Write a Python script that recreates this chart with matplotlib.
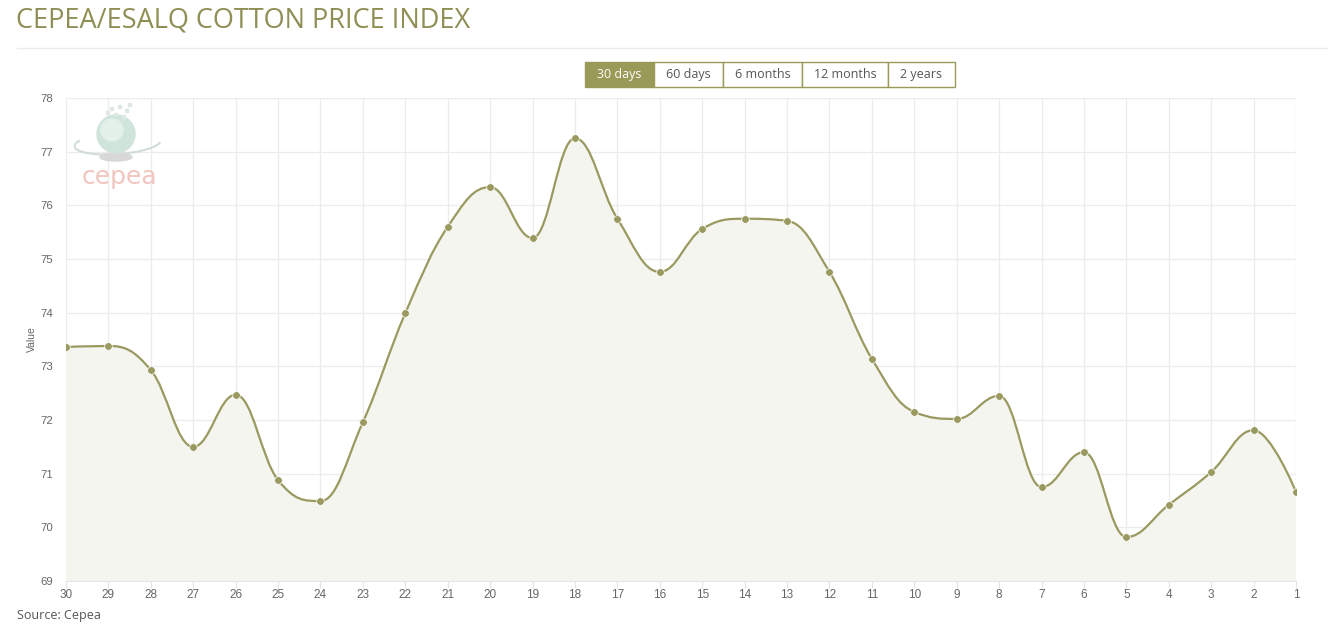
import matplotlib
matplotlib.use("Agg")
import matplotlib.pyplot as plt
import numpy as np
from matplotlib.path import Path
from matplotlib.patches import PathPatch, Rectangle, Ellipse, Arc
from matplotlib.lines import Line2D

# data
day_labels = ['30', '29', '28', '27', '26', '25', '24', '23', '22', '21', '20', '19', '18', '17', '16',
              '15', '14', '13', '12', '11', '10', '9', '8', '7', '6', '5', '4', '3', '2', '1']
values = [73.36, 73.38, 72.93, 71.50, 72.47, 70.88, 70.49, 71.96, 73.99, 75.60,
          76.34, 75.39, 77.25, 75.75, 74.76, 75.56, 75.75, 75.71, 74.76, 73.14,
          72.15, 72.02, 72.45, 70.75, 71.40, 69.82, 70.42, 71.03, 71.81, 70.66]
y_ticks = [69, 70, 71, 72, 73, 74, 75, 76, 77, 78]
buttons = ['30 days', '60 days', '6 months', '12 months', '2 years']

W, H = 1328, 629
OLIVE = '#999960'
BTN = '#9a9a58'


def spline_path(xs, ys, smoothing=1.5):
    # highcharts-like spline control points
    n = len(xs)
    left = [(xs[i], ys[i]) for i in range(n)]
    right = [(xs[i], ys[i]) for i in range(n)]
    denom = smoothing + 1
    for i in range(1, n - 1):
        px, py = xs[i], ys[i]
        lx = (smoothing * px + xs[i - 1]) / denom
        ly = (smoothing * py + ys[i - 1]) / denom
        rx = (smoothing * px + xs[i + 1]) / denom
        ry = (smoothing * py + ys[i + 1]) / denom
        corr = ((ry - ly) * (rx - px)) / (rx - lx) + py - ry
        ly += corr
        ry += corr
        if ly > ys[i - 1] and ly > py:
            ly = max(ys[i - 1], py)
            ry = 2 * py - ly
        elif ly < ys[i - 1] and ly < py:
            ly = min(ys[i - 1], py)
            ry = 2 * py - ly
        if ry > ys[i + 1] and ry > py:
            ry = max(ys[i + 1], py)
            ly = 2 * py - ry
        elif ry < ys[i + 1] and ry < py:
            ry = min(ys[i + 1], py)
            ly = 2 * py - ry
        left[i] = (lx, ly)
        right[i] = (rx, ry)
    verts = [(xs[0], ys[0])]
    codes = [Path.MOVETO]
    for i in range(1, n):
        verts += [right[i - 1], left[i], (xs[i], ys[i])]
        codes += [Path.CURVE4] * 3
    return verts, codes


fig = plt.figure(figsize=(W / 100, H / 100), dpi=100)
fig.patch.set_facecolor('white')


def fx(x):
    return x / W


def fy(y):
    return 1 - y / H


ax = fig.add_axes([fx(66), fy(581), (1296 - 66) / W, (581 - 98) / H])
ax.set_facecolor('white')

xs = np.arange(len(values), dtype=float)
verts, codes = spline_path(list(xs), list(values))

# area fill
fverts = verts + [(xs[-1], y_ticks[0]), (xs[0], y_ticks[0]), (xs[0], values[0])]
fcodes = codes + [Path.LINETO, Path.LINETO, Path.CLOSEPOLY]
ax.add_patch(PathPatch(Path(fverts, fcodes), facecolor='#f5f5f0', edgecolor='none', zorder=1))
ax.add_patch(PathPatch(Path(verts, codes), facecolor='none', edgecolor=OLIVE, lw=1.6, zorder=3))
ax.plot(xs, values, 'o', color=OLIVE, ms=5.5, mec='white', mew=0.5, zorder=4)

ax.set_xlim(xs[0], xs[-1])
ax.set_ylim(y_ticks[0], y_ticks[-1])
ax.set_xticks(xs)
ax.set_xticklabels(day_labels)
ax.set_yticks(y_ticks)
ax.grid(True, color='#ececec', lw=0.9, zorder=0)
ax.set_axisbelow(True)
for s in ['top', 'right', 'left']:
    ax.spines[s].set_visible(False)
ax.spines['bottom'].set_color('#e4e4e4')
ax.tick_params(axis='x', length=5, color='#e4e4e4', labelsize=8.5, labelcolor='#666666', pad=0.5)
ax.tick_params(axis='y', length=0, labelsize=8.2, labelcolor='#666666', pad=9)
for lab in ax.get_xticklabels() + ax.get_yticklabels():
    lab.set_family('Liberation Sans')
ax.set_ylabel('Value', fontsize=7.5, color='#666666', family='Liberation Sans', labelpad=3)

# title and rule
fig.text(fx(16), fy(21), 'CEPEA/ESALQ COTTON PRICE INDEX', fontsize=19.5, color='#8f8f55',
         family='Open Sans', va='center', ha='left')
fig.add_artist(Line2D([fx(17), fx(1328)], [fy(48), fy(48)], color='#ececec', lw=1))

# range buttons
bx = [585, 654, 723, 802, 888, 955]
for i, b in enumerate(buttons):
    active = i == 0
    fig.add_artist(Rectangle((fx(bx[i]), fy(87)), (bx[i + 1] - bx[i]) / W, 25 / H,
                             facecolor=BTN if active else 'white', edgecolor=BTN, lw=1))
    fig.text(fx((bx[i] + bx[i + 1]) / 2), fy(74.5), b, fontsize=9, family='Open Sans',
             color='white' if active else '#555555', ha='center', va='center')

# logo
fig.add_artist(Arc((fx(118), fy(143)), 88 / W, 22 / H, angle=12, theta1=160, theta2=350,
                   color='#d2dcd6', lw=1.5))
fig.add_artist(Ellipse((fx(116), fy(157)), 32 / W, 8 / H, color='#d8d8d8'))
fig.add_artist(Ellipse((fx(116), fy(134)), 38 / W, 38 / H, color='#cfe4da'))
fig.add_artist(Ellipse((fx(112), fy(130)), 22 / W, 22 / H, color='#e4f0ea'))
for dx, dy in [(110, 110), (118, 108), (125, 112), (114, 116), (122, 118), (128, 106), (106, 114)]:
    fig.add_artist(Rectangle((fx(dx), fy(dy)), 3 / W, 3 / H, color='#dfe8e3'))
fig.text(fx(119), fy(177), 'cepea', fontsize=18, color='#f0c6be', family='DejaVu Sans',
         ha='center', va='center')

fig.text(fx(17), fy(615), 'Source: Cepea', fontsize=9, color='#555555', family='Open Sans',
         va='center', ha='left')

fig.savefig('out.png', dpi=100)
